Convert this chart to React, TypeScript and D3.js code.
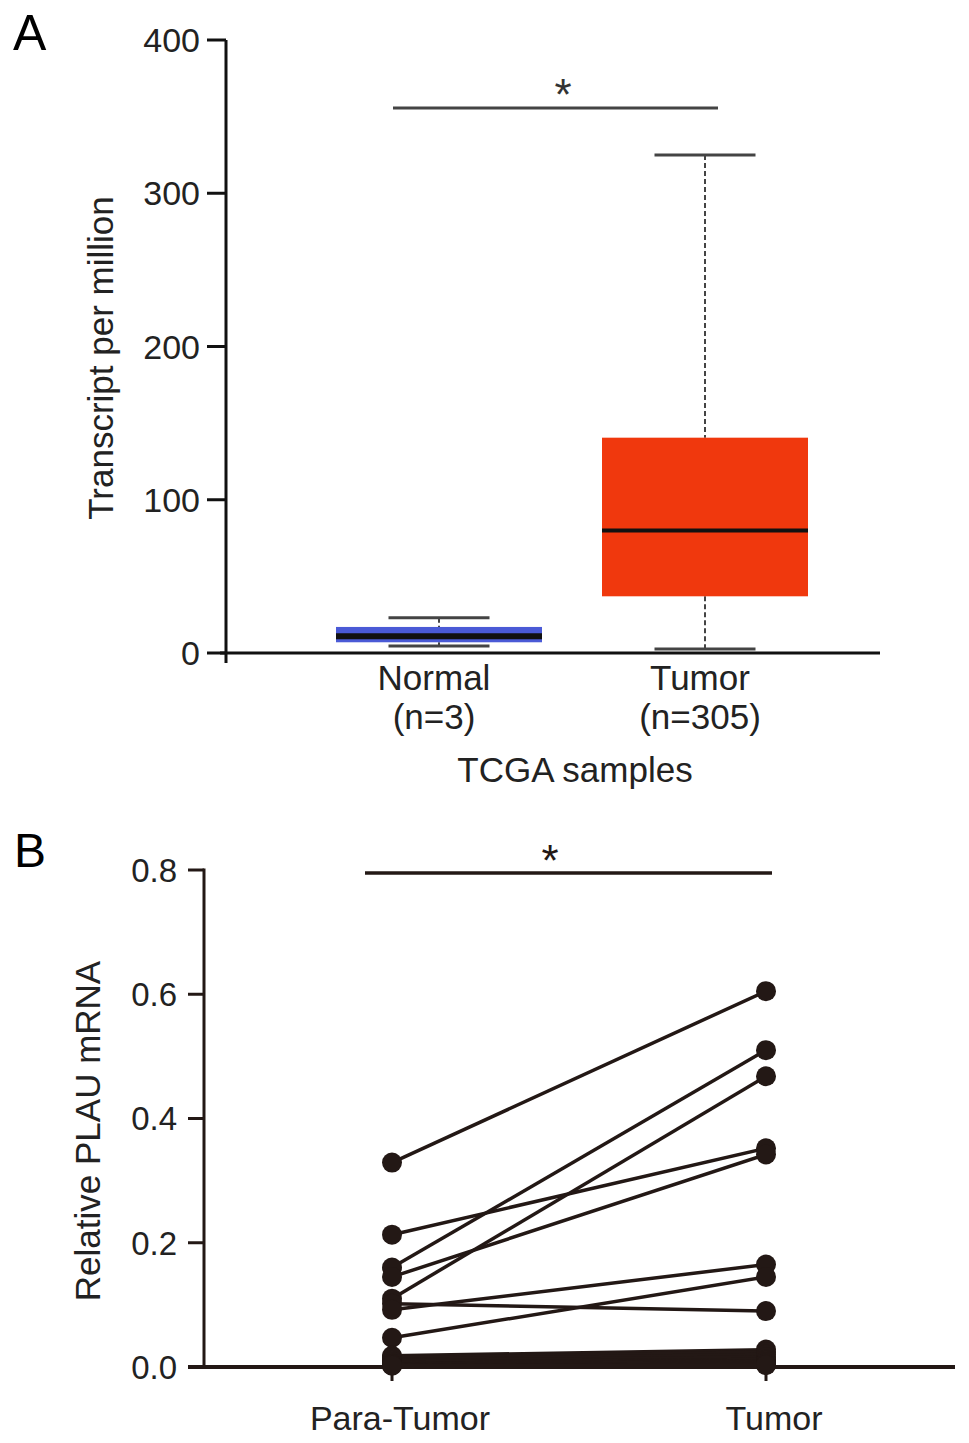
import { useRef, useEffect } from "react";
import * as d3 from "d3";

// Panel A: TCGA boxplot (min, q1, median, q3, max)
const groupsA = ["Normal", "Tumor"];
const groupNA = ["(n=3)", "(n=305)"];
const normalStats = [4.5, 7, 11, 17, 23];
const tumorStats = [2.6, 37, 80, 140.5, 325];
const boxColors = ["#4a5ad6", "#f0380d"];
const ticksA = [0, 100, 200, 300, 400];

// Panel B: paired qPCR values
const groupsB = ["Para-Tumor", "Tumor"];
const paraVals = [0.329, 0.213, 0.16, 0.145, 0.11, 0.102, 0.092, 0.047,
  0.018, 0.015, 0.012, 0.01, 0.008, 0.006, 0.005, 0.004, 0.003, 0.002];
const tumorVals = [0.605, 0.352, 0.51, 0.342, 0.468, 0.09, 0.165, 0.145,
  0.028, 0.024, 0.02, 0.016, 0.012, 0.01, 0.008, 0.006, 0.004, 0.003];
const ticksB = [0, 0.2, 0.4, 0.6, 0.8];

const FONT = "Liberation Sans, Arial, Helvetica, sans-serif";

export default function App() {
  const svgRef = useRef<SVGSVGElement>(null);
  const W = 969;
  const H = 1443;

  useEffect(() => {
    if (!svgRef.current) return;
    const svg = d3.select(svgRef.current);
    svg.selectAll("*").remove();

    // ---------- Panel A ----------
    const yA = d3.scaleLinear().domain([0, 400]).range([653, 40]);
    const xA = d3.scalePoint<string>().domain(groupsA).range([439, 705]);
    const boxW = 206;
    const capW = 101;
    const axA = 226;
    const gA = svg.append("g");

    svg.append("text").attr("x", 13).attr("y", 50).attr("font-size", 50)
      .attr("font-family", FONT).text("A");

    // y axis
    gA.append("line").attr("x1", axA).attr("x2", axA).attr("y1", yA(400)).attr("y2", yA(0) + 10)
      .attr("stroke", "#111").attr("stroke-width", 3);
    ticksA.forEach((t) => {
      gA.append("line").attr("x1", axA - 19).attr("x2", axA).attr("y1", yA(t)).attr("y2", yA(t))
        .attr("stroke", "#111").attr("stroke-width", 3);
      gA.append("text").attr("x", axA - 26).attr("y", yA(t)).attr("dy", "0.36em")
        .attr("text-anchor", "end").attr("font-size", 34).attr("font-family", FONT)
        .attr("fill", "#222").text(String(t));
    });
    // x axis
    gA.append("line").attr("x1", axA - 6).attr("x2", 880).attr("y1", yA(0)).attr("y2", yA(0))
      .attr("stroke", "#111").attr("stroke-width", 3);

    [normalStats, tumorStats].forEach((s, i) => {
      const cx = xA(groupsA[i])!;
      const [mn, q1, md, q3, mx] = s;
      // whiskers
      gA.append("line").attr("x1", cx).attr("x2", cx).attr("y1", yA(mx)).attr("y2", yA(q3))
        .attr("stroke", "#444").attr("stroke-width", 2).attr("stroke-dasharray", "5 3");
      gA.append("line").attr("x1", cx).attr("x2", cx).attr("y1", yA(q1)).attr("y2", yA(mn))
        .attr("stroke", "#444").attr("stroke-width", 2).attr("stroke-dasharray", "5 3");
      [mn, mx].forEach((v) => {
        gA.append("line").attr("x1", cx - capW / 2).attr("x2", cx + capW / 2)
          .attr("y1", yA(v)).attr("y2", yA(v)).attr("stroke", "#444").attr("stroke-width", 3);
      });
      gA.append("rect").attr("x", cx - boxW / 2).attr("width", boxW)
        .attr("y", yA(q3)).attr("height", yA(q1) - yA(q3)).attr("fill", boxColors[i]);
      gA.append("line").attr("x1", cx - boxW / 2).attr("x2", cx + boxW / 2)
        .attr("y1", yA(md)).attr("y2", yA(md)).attr("stroke", "#111").attr("stroke-width", i === 0 ? 6 : 4);
      gA.append("text").attr("x", cx - 5).attr("y", 690).attr("text-anchor", "middle")
        .attr("font-size", 35).attr("font-family", FONT).attr("fill", "#222").text(groupsA[i]);
      gA.append("text").attr("x", cx - 5).attr("y", 729).attr("text-anchor", "middle")
        .attr("font-size", 35).attr("font-family", FONT).attr("fill", "#222").text(groupNA[i]);
    });

    gA.append("text").attr("x", 575).attr("y", 782).attr("text-anchor", "middle")
      .attr("font-size", 35).attr("font-family", FONT).attr("fill", "#222").text("TCGA samples");
    gA.append("text").attr("transform", `translate(113,${358}) rotate(-90)`)
      .attr("text-anchor", "middle").attr("font-size", 35).attr("font-family", FONT)
      .attr("fill", "#222").text("Transcript per million");

    // significance
    gA.append("line").attr("x1", 393).attr("x2", 718).attr("y1", 108).attr("y2", 108)
      .attr("stroke", "#444").attr("stroke-width", 3);
    gA.append("text").attr("x", 563).attr("y", 110).attr("text-anchor", "middle")
      .attr("font-size", 44).attr("font-family", FONT).attr("fill", "#333").text("*");

    // ---------- Panel B ----------
    const dark = "#231815";
    const yB = d3.scaleLinear().domain([0, 0.8]).range([1367, 870]);
    const xB = d3.scalePoint<string>().domain(groupsB).range([392, 766]);
    const axB = 204;
    const gB = svg.append("g");

    svg.append("text").attr("x", 14).attr("y", 867).attr("font-size", 48)
      .attr("font-family", FONT).text("B");

    gB.append("line").attr("x1", axB).attr("x2", axB).attr("y1", yB(0.8) - 1.5).attr("y2", yB(0))
      .attr("stroke", dark).attr("stroke-width", 3);
    ticksB.forEach((t) => {
      gB.append("line").attr("x1", axB - 16).attr("x2", axB).attr("y1", yB(t)).attr("y2", yB(t))
        .attr("stroke", dark).attr("stroke-width", 3);
      gB.append("text").attr("x", axB - 27).attr("y", yB(t)).attr("dy", "0.36em")
        .attr("text-anchor", "end").attr("font-size", 33).attr("font-family", FONT)
        .attr("fill", "#222").text(t.toFixed(1));
    });
    gB.append("line").attr("x1", 188).attr("x2", 955).attr("y1", yB(0)).attr("y2", yB(0))
      .attr("stroke", dark).attr("stroke-width", 4);
    groupsB.forEach((g) => {
      gB.append("line").attr("x1", xB(g)!).attr("x2", xB(g)!).attr("y1", yB(0)).attr("y2", yB(0) + 14)
        .attr("stroke", dark).attr("stroke-width", 3);
      gB.append("text").attr("x", xB(g)! + 8).attr("y", 1430).attr("text-anchor", "middle")
        .attr("font-size", 34).attr("font-family", FONT).attr("fill", "#222").text(g);
    });
    gB.append("text").attr("transform", `translate(100,${1131}) rotate(-90)`)
      .attr("text-anchor", "middle").attr("font-size", 35).attr("font-family", FONT)
      .attr("fill", "#222").text("Relative PLAU mRNA");

    paraVals.forEach((p, i) => {
      const t = tumorVals[i];
      gB.append("line").attr("x1", xB("Para-Tumor")!).attr("x2", xB("Tumor")!)
        .attr("y1", yB(p)).attr("y2", yB(t)).attr("stroke", dark).attr("stroke-width", 3.5);
    });
    paraVals.forEach((p, i) => {
      const t = tumorVals[i];
      gB.append("circle").attr("cx", xB("Para-Tumor")!).attr("cy", yB(p)).attr("r", 10).attr("fill", dark);
      gB.append("circle").attr("cx", xB("Tumor")!).attr("cy", yB(t)).attr("r", 10).attr("fill", dark);
    });

    gB.append("line").attr("x1", 365).attr("x2", 772).attr("y1", 873).attr("y2", 873)
      .attr("stroke", dark).attr("stroke-width", 3.5);
    gB.append("text").attr("x", 550).attr("y", 876).attr("text-anchor", "middle")
      .attr("font-size", 44).attr("font-family", FONT).attr("fill", dark).text("*");
  }, []);

  return (
    <div style={{ position: "absolute", left: 0, top: 0, width: W, height: H, background: "#fff" }}>
      <svg ref={svgRef} width={W} height={H} />
    </div>
  );
}
